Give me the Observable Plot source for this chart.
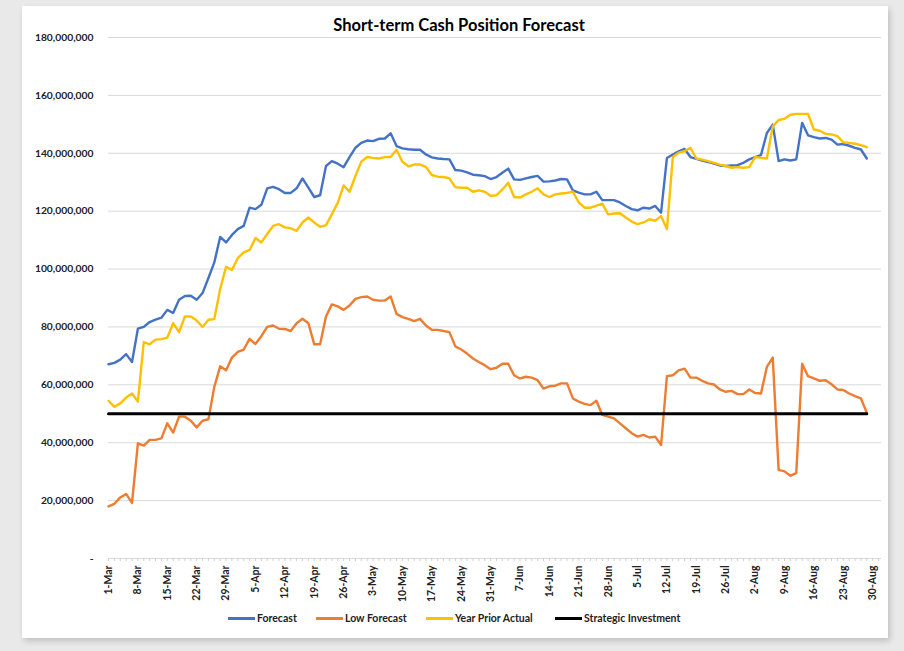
<!DOCTYPE html>
<html>
<head>
<meta charset="utf-8">
<script src="https://cdn.jsdelivr.net/npm/d3@7"></script>
<script src="https://cdn.jsdelivr.net/npm/@observablehq/plot@0.6"></script>
<style>
  html, body { margin: 0; padding: 0; }
  body { width: 904px; height: 651px; overflow: hidden; position: relative; background: #e9e9e9; font-family: Lato, "Open Sans", sans-serif; }
  #panel { position: absolute; left: 22px; top: 6px; width: 866px; height: 632px; background: #fff; box-shadow: 2px 3px 6px rgba(0,0,0,0.18); }
  #title { position: absolute; left: 0; width: 918px; top: 15px; text-align: center; font-weight: 700; font-size: 16.5px; color: #000; }
  #chart { position: absolute; left: 0; top: 0; }
  .lg { position: absolute; top: 611px; height: 14px; display: flex; align-items: center; font-size: 10.5px; font-weight: 700; color: #222; white-space: nowrap; }
  .lg span.sw { display: inline-block; width: 27px; height: 3px; margin-right: 2px; }
</style>
</head>
<body>
<div id="panel"></div>
<div id="title">Short-term Cash Position Forecast</div>
<div id="chart"></div>
<div class="lg" style="left:228px"><span class="sw" style="background:#4472C4"></span>Forecast</div>
<div class="lg" style="left:316px"><span class="sw" style="background:#ED7D31"></span>Low Forecast</div>
<div class="lg" style="left:426px"><span class="sw" style="background:#FFC000"></span>Year Prior Actual</div>
<div class="lg" style="left:555px"><span class="sw" style="background:#000"></span>Strategic Investment</div>
<script>
// Weekly tick labels (every 5th business day)
const weekLabels = ["1-Mar","8-Mar","15-Mar","22-Mar","29-Mar","5-Apr","12-Apr","19-Apr","26-Apr","3-May","10-May","17-May","24-May","31-May","7-Jun","14-Jun","21-Jun","28-Jun","5-Jul","12-Jul","19-Jul","26-Jul","2-Aug","9-Aug","16-Aug","23-Aug","30-Aug"];

// Values in millions, one per business day (1-Mar .. 27-Aug)
const forecastM = [67.1,67.6,68.7,70.6,67.9,79.4,80.0,81.7,82.5,83.2,85.9,84.8,89.4,90.7,90.8,89.4,91.7,96.9,102.3,111.1,109.2,111.8,113.8,114.9,121.2,120.7,122.2,127.9,128.4,127.6,126.3,126.3,127.9,131.3,128.1,124.9,125.5,135.6,137.3,136.4,135.2,138.7,141.9,143.6,144.4,144.2,145.0,145.1,146.9,142.5,141.7,141.4,141.2,141.2,139.6,138.6,138.2,138.0,137.9,134.2,134.0,133.4,132.6,132.4,132.1,131.1,131.8,133.3,134.7,131.0,130.8,131.3,131.8,132.2,130.2,130.3,130.6,131.1,131.0,127.2,126.4,125.8,125.8,126.7,123.8,123.8,123.8,123.0,121.8,120.7,120.3,121.2,120.9,121.8,119.5,138.4,139.6,140.7,141.5,138.7,138.1,137.5,137.0,136.4,135.8,135.6,135.8,135.9,136.7,137.9,138.7,139.4,147.0,149.9,137.3,137.9,137.5,137.9,150.5,146.2,145.6,145.1,145.3,144.7,143.0,143.2,142.6,141.9,141.3,138.2];

const lowForecastM = [18.0,18.9,21.1,22.3,19.2,39.8,39.0,41.0,41.0,41.5,46.7,43.5,49.0,49.0,47.6,45.3,47.6,48.1,59.3,66.4,65.0,69.4,71.4,72.2,75.9,74.1,76.8,80.0,80.5,79.4,79.3,78.6,81.3,82.8,81.3,74.0,74.0,83.6,87.8,87.1,85.9,87.4,89.7,90.3,90.5,89.4,89.1,89.1,90.5,84.5,83.4,82.8,82.0,82.8,80.5,79.0,79.0,78.6,78.2,73.3,72.2,70.8,69.1,67.9,66.8,65.4,65.9,67.3,67.3,63.3,62.2,62.8,62.5,61.6,58.7,59.5,59.7,60.5,60.5,55.3,54.2,53.4,53.0,54.5,49.6,49.0,48.4,46.7,45.0,43.3,42.1,42.7,41.8,42.1,39.2,63.0,63.3,65.0,65.6,62.5,62.5,61.4,60.5,60.1,58.4,57.6,57.9,56.8,56.8,58.4,57.2,57.0,66.2,69.4,30.6,30.1,28.6,29.5,67.3,63.0,62.2,61.4,61.6,60.2,58.4,58.2,57.0,56.1,55.3,50.4];

const yearPriorM = [54.5,52.4,53.6,55.6,57.0,54.2,74.8,74.0,75.6,75.8,76.3,81.3,78.2,83.6,83.6,82.2,80.0,82.5,82.7,93.1,100.8,99.7,103.8,105.8,106.6,110.7,109.2,112.1,114.9,115.5,114.4,114.1,113.2,116.1,117.8,116.1,114.6,115.2,118.9,122.9,128.9,126.7,132.1,137.1,138.7,138.4,138.2,138.7,138.7,141.2,137.1,135.5,136.1,136.1,135.3,132.5,131.9,131.8,131.3,128.3,128.1,128.1,126.7,127.2,126.7,125.3,125.5,127.5,129.8,124.9,124.7,125.8,126.7,127.9,125.8,124.9,125.8,126.1,126.3,126.7,123.0,121.2,121.2,121.9,122.6,118.9,119.2,119.3,117.8,116.4,115.5,116.1,117.2,116.7,118.3,113.8,138.7,140.2,140.7,141.9,138.2,137.8,137.3,136.7,136.1,135.6,135.0,135.2,135.0,135.2,138.7,138.4,138.2,149.3,151.5,151.9,153.3,153.6,153.6,153.6,148.2,147.8,146.7,146.5,145.9,143.8,143.6,143.3,142.8,142.1];

const strategicInvestment = 50000000;
const yTicks = [0,20e6,40e6,60e6,80e6,100e6,120e6,140e6,160e6,180e6];

const M = 1e6;
const forecast = forecastM.map(v => v * M);
const lowForecast = lowForecastM.map(v => v * M);
const yearPrior = yearPriorM.map(v => v * M);
const strategic = forecast.map(() => strategicInvestment);
const labelIdx = weekLabels.map((_, k) => k * 5);

const fmt = d3.format(",");
const chart = Plot.plot({
  width: 904,
  height: 610,
  marginLeft: 108,
  marginRight: 23,
  marginTop: 37,
  marginBottom: 52,
  style: { background: "transparent", fontFamily: "Lato, 'Open Sans', sans-serif", color: "#222" },
  x: { type: "linear", domain: [0, 131.5], axis: null },
  y: { domain: [0, 180e6], axis: null },
  marks: [
    Plot.gridY(yTicks, { stroke: "#d9d9d9", strokeOpacity: 1, strokeWidth: 1 }),
    Plot.axisY(yTicks, { tickSize: 0, tickPadding: 15, fontSize: 10.3, fontWeight: "bold",
      tickFormat: d => d === 0 ? "-" : fmt(d) }),
    Plot.axisX(d3.range(0, 132), { tickSize: 3, stroke: "#cfcfcf", tickFormat: () => "" }),
    Plot.axisX(labelIdx, { tickSize: 0, tickPadding: 7, tickRotate: -90, fontSize: 10.5, fontWeight: "bold",
      tickFormat: i => weekLabels[i / 5] }),
    Plot.lineY(forecast, { stroke: "#4472C4", strokeWidth: 2.4 }),
    Plot.lineY(lowForecast, { stroke: "#ED7D31", strokeWidth: 2.4 }),
    Plot.lineY(yearPrior, { stroke: "#FFC000", strokeWidth: 2.4 }),
    Plot.lineY(strategic, { stroke: "#000", strokeWidth: 3 })
  ]
});
document.getElementById("chart").appendChild(chart);
</script>
</body>
</html>
